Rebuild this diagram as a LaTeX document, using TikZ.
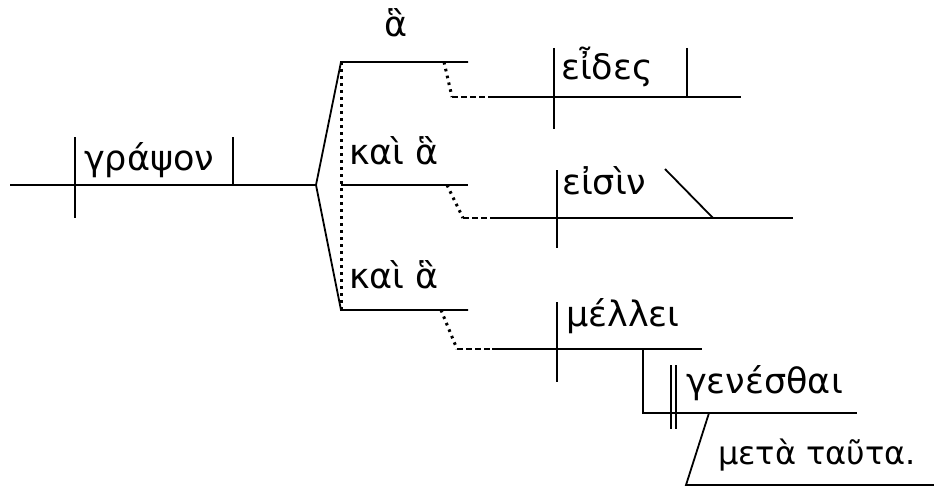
\documentclass[tikz,border=0pt]{standalone}
\usepackage{fontspec}
\newfontfamily\grk{DejaVu Sans}
\begin{document}
\begin{tikzpicture}[x=1pt,y=-1pt,
 ln/.style={line width=1.8pt},
 dotln/.style={line width=3pt, dash pattern=on 2.6pt off 4.4pt},
 dashln/.style={line width=2pt, dash pattern=on 6pt off 3pt},
 word/.style={anchor=base west, inner sep=0pt, font=\grk\fontsize{35}{42}\selectfont}]
\useasboundingbox (0,0) rectangle (934,487);
% main clause
\coordinate (m0) at (10,185);
\coordinate (fork) at (316,185);
\coordinate (s1) at (75,137); \coordinate (s2) at (75,218);
\coordinate (o1) at (233,137); \coordinate (o2) at (233,185);
\draw[ln] (m0) -- (fork);
\draw[ln] (s1) -- (s2);
\draw[ln] (o1) -- (o2);
\node[word] (graps) at (84,170) {γράψον};
% compound object branches
\coordinate (b1) at (341,62); \coordinate (b1e) at (468,62);
\coordinate (b2) at (341,185); \coordinate (b2e) at (468,185);
\coordinate (b3) at (341,310); \coordinate (b3e) at (468,310);
\draw[ln] (b1e) -- (b1) -- (fork) -- (b3) -- (b3e);
\draw[ln] (b2) -- (b2e);
\draw[dotln] (b1) -- (b3);
\node[word] (ha1) at (384,37) {ἃ};
\node[word] (kai1) at (349,164) {καὶ ἃ};
\node[word] (kai2) at (349,288) {καὶ ἃ};
% clause 1
\coordinate (d1a) at (444,62); \coordinate (d1b) at (452,97); \coordinate (d1c) at (490,97);
\coordinate (c1e) at (741,97);
\draw[dotln] (d1a) -- (d1b);
\draw[dashln] (d1b) -- (d1c);
\draw[ln] (d1c) -- (c1e);
\coordinate (v1a) at (554,48); \coordinate (v1b) at (554,129);
\coordinate (v2a) at (687,48); \coordinate (v2b) at (687,97);
\draw[ln] (v1a) -- (v1b);
\draw[ln] (v2a) -- (v2b);
\node[word] (eides) at (561,80) {εἶδες};
% clause 2
\coordinate (d2a) at (447,185); \coordinate (d2b) at (463,218); \coordinate (d2c) at (493,218);
\coordinate (c2e) at (793,218);
\draw[dotln] (d2a) -- (d2b);
\draw[dashln] (d2b) -- (d2c);
\draw[ln] (d2c) -- (c2e);
\coordinate (v3a) at (557,170); \coordinate (v3b) at (557,248);
\draw[ln] (v3a) -- (v3b);
\coordinate (p1) at (665,169); \coordinate (p2) at (713,218);
\draw[ln] (p1) -- (p2);
\node[word] (eisin) at (562,194) {εἰσὶν};
% clause 3
\coordinate (d3a) at (441,310); \coordinate (d3b) at (457,349); \coordinate (d3c) at (492,349);
\coordinate (c3e) at (702,349);
\draw[dotln] (d3a) -- (d3b);
\draw[dashln] (d3b) -- (d3c);
\draw[ln] (d3c) -- (c3e);
\coordinate (v4a) at (557,302); \coordinate (v4b) at (557,382);
\draw[ln] (v4a) -- (v4b);
\node[word] (mellei) at (566,326) {μέλλει};
% infinitive complement
\coordinate (i0) at (643,349); \coordinate (i1) at (643,413); \coordinate (i2) at (857,413);
\draw[ln] (i0) -- (i1) -- (i2);
\coordinate (q1a) at (671,365); \coordinate (q1b) at (671,429);
\coordinate (q2a) at (676,365); \coordinate (q2b) at (676,429);
\draw[ln] (q1a) -- (q1b);
\draw[ln] (q2a) -- (q2b);
\node[word] (genes) at (686,393) {γενέσθαι};
% prepositional phrase
\coordinate (r1) at (709,413); \coordinate (r2) at (686,485); \coordinate (r3) at (934,485);
\draw[ln] (r1) -- (r2) -- (r3);
\node[word, font=\grk\fontsize{32}{40}\selectfont] (meta) at (718,464) {μετὰ ταῦτα.};
\end{tikzpicture}
\end{document}
